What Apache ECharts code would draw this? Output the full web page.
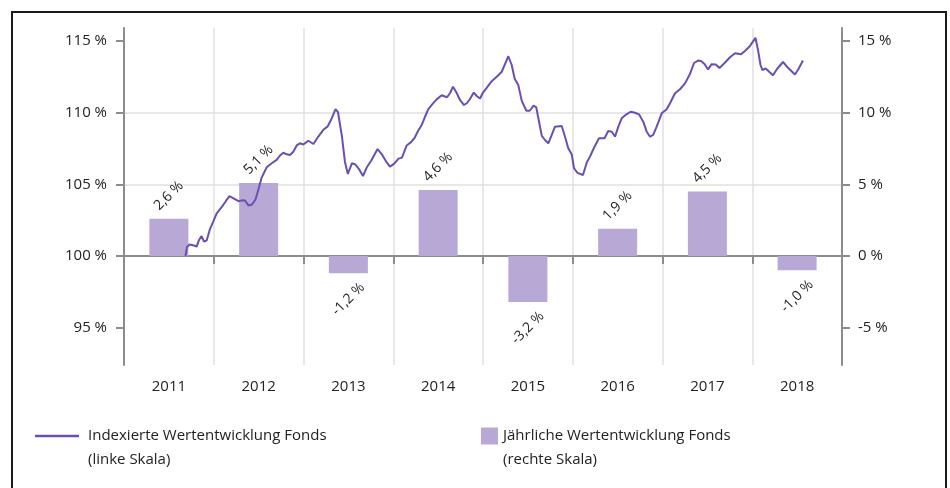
<!DOCTYPE html>
<html>
<head>
<meta charset="utf-8">
<script src="https://cdn.jsdelivr.net/npm/echarts@6/dist/echarts.min.js"></script>
<style>
  html, body { margin: 0; padding: 0; background: #fff; }
  #chart { width: 950px; height: 488px; }
</style>
</head>
<body>
<div id="chart"></div>
<script>
// Kategorien (Jahre) und jährliche Wertentwicklung in %
var jahre = ['2011', '2012', '2013', '2014', '2015', '2016', '2017', '2018'];
var jahresWerte = [2.6, 5.1, -1.2, 4.6, -3.2, 1.9, 4.5, -1.0];

// indexierte Wertentwicklung: Zeitpunkt (Jahr als Dezimalzahl) und Indexwert in %
var indexZeit = [
  2011.685, 2011.702, 2011.730, 2011.780, 2011.810, 2011.836, 2011.864, 2011.891, 2011.921, 2011.958,
  2011.992, 2012.033, 2012.092, 2012.136, 2012.175, 2012.220, 2012.276, 2012.315, 2012.348, 2012.387,
  2012.426, 2012.465, 2012.496, 2012.534, 2012.590, 2012.646, 2012.701, 2012.738, 2012.775, 2012.813,
  2012.850, 2012.886, 2012.924, 2012.961, 2012.998, 2013.054, 2013.111, 2013.165, 2013.221, 2013.267,
  2013.306, 2013.357, 2013.384, 2013.426, 2013.462, 2013.494, 2013.540, 2013.579, 2013.624, 2013.663,
  2013.704, 2013.752, 2013.825, 2013.871, 2013.919, 2013.964, 2014.008, 2014.059, 2014.097, 2014.150,
  2014.198, 2014.237, 2014.276, 2014.317, 2014.354, 2014.391, 2014.443, 2014.487, 2014.540, 2014.558,
  2014.599, 2014.632, 2014.666, 2014.707, 2014.744, 2014.788, 2014.822, 2014.855, 2014.897, 2014.930,
  2014.967, 2015.000, 2015.041, 2015.097, 2015.153, 2015.209, 2015.245, 2015.282, 2015.320, 2015.353,
  2015.393, 2015.432, 2015.483, 2015.521, 2015.563, 2015.594, 2015.622, 2015.655, 2015.691, 2015.728,
  2015.766, 2015.802, 2015.877, 2015.914, 2015.950, 2015.988, 2016.014, 2016.053, 2016.114, 2016.156,
  2016.192, 2016.237, 2016.292, 2016.354, 2016.396, 2016.435, 2016.471, 2016.508, 2016.545, 2016.602,
  2016.646, 2016.694, 2016.738, 2016.786, 2016.824, 2016.861, 2016.897, 2016.935, 2016.991, 2017.047,
  2017.084, 2017.139, 2017.195, 2017.251, 2017.306, 2017.351, 2017.396, 2017.429, 2017.468, 2017.507,
  2017.548, 2017.593, 2017.635, 2017.689, 2017.752, 2017.808, 2017.875, 2017.919, 2017.975, 2018.036,
  2018.064, 2018.092, 2018.114, 2018.150, 2018.192, 2018.231, 2018.276, 2018.343, 2018.404, 2018.476,
  2018.515, 2018.565
];
var indexWerte = [
  100.00, 100.63, 100.80, 100.73, 100.66, 101.12, 101.39, 101.00, 101.08, 101.88,
  102.37, 102.98, 103.44, 103.84, 104.18, 104.02, 103.82, 103.88, 103.87, 103.52,
  103.59, 103.94, 104.60, 105.47, 106.19, 106.47, 106.70, 107.01, 107.20, 107.09,
  107.04, 107.27, 107.71, 107.86, 107.78, 108.04, 107.81, 108.33, 108.80, 109.02,
  109.48, 110.25, 110.04, 108.44, 106.56, 105.72, 106.47, 106.38, 106.00, 105.58,
  106.17, 106.63, 107.46, 107.11, 106.60, 106.23, 106.42, 106.79, 106.86, 107.71,
  107.94, 108.23, 108.72, 109.14, 109.71, 110.25, 110.64, 110.94, 111.21, 111.26,
  111.07, 111.35, 111.81, 111.37, 110.88, 110.53, 110.67, 110.95, 111.40, 111.16,
  110.98, 111.40, 111.72, 112.19, 112.50, 112.85, 113.38, 113.93, 113.32, 112.36,
  111.93, 110.82, 110.13, 110.13, 110.48, 110.36, 109.43, 108.38, 108.09, 107.86,
  108.44, 109.02, 109.07, 108.32, 107.51, 107.10, 106.12, 105.80, 105.65, 106.52,
  106.93, 107.55, 108.21, 108.21, 108.72, 108.67, 108.33, 109.02, 109.60, 109.90,
  110.06, 109.99, 109.88, 109.37, 108.67, 108.32, 108.44, 109.02, 109.95, 110.23,
  110.65, 111.35, 111.63, 112.04, 112.69, 113.46, 113.63, 113.60, 113.39, 113.01,
  113.38, 113.36, 113.11, 113.44, 113.86, 114.14, 114.07, 114.30, 114.65, 115.22,
  114.37, 113.32, 112.97, 113.08, 112.83, 112.60, 113.04, 113.53, 113.09, 112.66,
  113.04, 113.63
];

// Achsenbeschriftungen
var linkeSkala = [95, 100, 105, 110, 115];
var rechteSkala = [-5, 0, 5, 10, 15];

var schrift = '"Open Sans", "Noto Sans", sans-serif';
var textFarbe = '#222';
var achsenFarbe = '#8c8c8c';
var gitterFarbe = '#e1e1e1';
var linienFarbe = '#6a4fb3';
var balkenFarbe = '#b8a8d6';

var nameLinie = 'Indexierte Wertentwicklung Fonds';
var nameBalken = 'Jährliche Wertentwicklung Fonds';

function prozent(v) {
  return v.toFixed(1).replace('.', ',') + ' %';
}

var balkenDaten = jahresWerte.map(function (v) {
  return {
    value: v,
    label: { position: v < 0 ? 'bottom' : 'top', distance: v < 0 ? 26 : 23 }
  };
});

var linienDaten = indexZeit.map(function (t, i) {
  return [t, indexWerte[i]];
});

var chart = echarts.init(document.getElementById('chart'), null, { renderer: 'canvas' });

chart.setOption({
  animation: false,
  textStyle: { fontFamily: schrift },
  grid: { left: 124, right: 108, top: 28, bottom: 123, containLabel: false },
  graphic: [{
    type: 'rect',
    silent: true,
    z: -10,
    shape: { x: 12, y: 12, width: 934, height: 520 },
    style: { fill: 'none', stroke: '#1a1a1a', lineWidth: 2 }
  }],
  // leere erste Zeile, damit das Symbol auf Höhe der ersten Textzeile steht
  legend: [{
    left: 35, top: 400, padding: 0,
    selectedMode: false,
    itemWidth: 44, itemHeight: 2.5,
    data: [{ name: nameLinie, icon: 'rect' }],
    formatter: function (n) { return '\n' + n + '\n(linke Skala)'; },
    textStyle: { color: textFarbe, fontSize: 15, fontFamily: schrift, lineHeight: 24, padding: [0, 0, 0, 4] }
  }, {
    left: 481, top: 400, padding: 0,
    selectedMode: false,
    itemWidth: 17, itemHeight: 17,
    data: [{ name: nameBalken, icon: 'rect' }],
    formatter: function (n) { return '\n' + n + '\n(rechte Skala)'; },
    textStyle: { color: textFarbe, fontSize: 15, fontFamily: schrift, lineHeight: 24 }
  }],
  xAxis: [{
    type: 'category',
    data: jahre,
    boundaryGap: true,
    axisLine: { lineStyle: { color: achsenFarbe, width: 2 } },
    axisTick: { show: true, length: 8, lineStyle: { color: achsenFarbe, width: 2 } },
    axisLabel: { color: textFarbe, fontSize: 15, margin: 14, fontFamily: schrift },
    splitLine: { show: true, showMinLine: false, showMaxLine: false, lineStyle: { color: gitterFarbe, width: 1.5 } }
  }, {
    type: 'value',
    min: 2011, max: 2019,
    show: false
  }],
  yAxis: [{
    type: 'value',
    position: 'left',
    min: 92.4, max: 115.9,
    axisLine: { show: true, lineStyle: { color: achsenFarbe, width: 2 } },
    axisTick: { show: true, length: 8, customValues: linkeSkala, lineStyle: { color: achsenFarbe, width: 2 } },
    axisLabel: {
      customValues: linkeSkala, margin: 17, color: textFarbe, fontSize: 15, fontFamily: schrift,
      formatter: function (v) { return v + ' %'; }
    },
    splitLine: { show: true, showMinLine: false, showMaxLine: false, lineStyle: { color: gitterFarbe, width: 1.5 } }
  }, {
    type: 'value',
    position: 'right',
    min: -7.6, max: 15.9,
    axisLine: { show: true, lineStyle: { color: achsenFarbe, width: 2 } },
    axisTick: { show: true, length: 8, customValues: rechteSkala, lineStyle: { color: achsenFarbe, width: 2 } },
    axisLabel: {
      customValues: rechteSkala, margin: 16, color: textFarbe, fontSize: 15, fontFamily: schrift,
      formatter: function (v) { return v + ' %'; }
    },
    splitLine: { show: false }
  }],
  series: [{
    name: nameBalken,
    type: 'bar',
    xAxisIndex: 0,
    yAxisIndex: 1,
    barWidth: 39,
    data: balkenDaten,
    itemStyle: { color: balkenFarbe },
    label: {
      show: true,
      rotate: 45,
      align: 'center',
      verticalAlign: 'middle',
      color: textFarbe,
      fontSize: 14,
      fontFamily: schrift,
      formatter: function (p) { return prozent(p.value); }
    }
  }, {
    name: nameLinie,
    type: 'line',
    xAxisIndex: 1,
    yAxisIndex: 0,
    data: linienDaten,
    symbol: 'none',
    showSymbol: false,
    z: 5,
    lineStyle: { color: linienFarbe, width: 2 },
    itemStyle: { color: linienFarbe }
  }]
});
</script>
</body>
</html>
